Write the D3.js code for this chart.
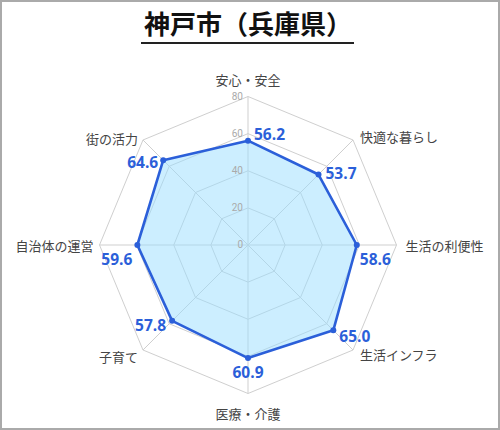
<!DOCTYPE html>
<html>
<head>
<meta charset="utf-8">
<script src="https://cdn.jsdelivr.net/npm/d3@7"></script>
<style>
	body { margin: 0; background: #fff; }
	svg { display: block; font-family: "Noto Sans CJK JP", "Noto Sans", sans-serif; }
</style>
</head>
<body>
<div id="chart"></div>
<script>
// chart data
var title = '神戸市（兵庫県）';
var categories = ['安心・安全', '快適な暮らし', '生活の利便性', '生活インフラ',
	'医療・介護', '子育て', '自治体の運営', '街の活力'];
var values = [56.2, 53.7, 58.6, 65.0, 60.9, 57.8, 59.6, 64.6];
var ticks = [0, 20, 40, 60, 80];

var w = 500,
	h = 430,
	cx = 248,
	cy = 245,
	R = 148.5;

var svg = d3.select('#chart')
	.append('svg')
	.attr('width', w)
	.attr('height', h);

// frame
svg.append('rect')
	.attr('x', 1)
	.attr('y', 1)
	.attr('width', w - 2)
	.attr('height', h - 2)
	.attr('fill', '#fff')
	.attr('stroke', '#aaa')
	.attr('stroke-width', 2);

// title
svg.append('text')
	.attr('x', cx)
	.attr('y', 34)
	.attr('text-anchor', 'middle')
	.attr('font-size', 26)
	.attr('font-weight', 'bold')
	.attr('fill', '#111')
	.text(title);
svg.append('line')
	.attr('x1', 141).attr('x2', 354)
	.attr('y1', 43).attr('y2', 43)
	.attr('stroke', '#222')
	.attr('stroke-width', 2);

var r = d3.scaleLinear().domain([0, 80]).range([0, R]);
var angle = d3.scalePoint().domain(d3.range(categories.length + 1)).range([0, 2 * Math.PI]);

function pt(i, v){
	var a = angle(i);
	return [cx + r(v) * Math.sin(a), cy - r(v) * Math.cos(a)];
}

var g = svg.append('g');

// grid rings
g.selectAll('polygon.ring')
	.data(ticks.slice(1)).enter()
	.append('polygon')
	.attr('class', 'ring')
	.attr('points', function(t){
		return categories.map(function(c, i){ return pt(i, t).join(','); }).join(' ');
	})
	.attr('fill', 'none')
	.attr('stroke', '#cfcfcf')
	.attr('stroke-width', 1);

// spokes
g.selectAll('line.spoke')
	.data(categories).enter()
	.append('line')
	.attr('class', 'spoke')
	.attr('x1', cx).attr('y1', cy)
	.attr('x2', function(d, i){ return pt(i, 80)[0]; })
	.attr('y2', function(d, i){ return pt(i, 80)[1]; })
	.attr('stroke', '#cfcfcf')
	.attr('stroke-width', 1);

// data area
var line = d3.line().curve(d3.curveLinearClosed);
var pts = values.map(function(v, i){ return pt(i, v); });
g.append('path')
	.attr('d', line(pts))
	.attr('fill', 'rgba(153,221,255,0.5)')
	.attr('stroke', '#2b5fd9')
	.attr('stroke-width', 2.6)
	.attr('stroke-linejoin', 'round');

g.selectAll('circle.dot')
	.data(pts).enter()
	.append('circle')
	.attr('class', 'dot')
	.attr('cx', function(d){ return d[0]; })
	.attr('cy', function(d){ return d[1]; })
	.attr('r', 3)
	.attr('fill', '#2b5fd9');

// tick labels
g.selectAll('text.tick')
	.data(ticks).enter()
	.append('text')
	.attr('class', 'tick')
	.attr('x', cx - 5)
	.attr('y', function(t){ return cy - r(t) + 3; })
	.attr('text-anchor', 'end')
	.attr('font-size', 10)
	.attr('font-family', 'Roboto, sans-serif')
	.attr('fill', '#aaa')
	.text(function(t){ return t; });

// category labels, placed by direction
var catPos = [
	{anchor: 'middle', dx: 0, dy: -12},
	{anchor: 'start', dx: 7, dy: 2},
	{anchor: 'start', dx: 9, dy: 6},
	{anchor: 'start', dx: 7, dy: 10},
	{anchor: 'middle', dx: 0, dy: 25},
	{anchor: 'end', dx: -5, dy: 12},
	{anchor: 'end', dx: -6, dy: 6},
	{anchor: 'end', dx: -5, dy: 4}
];
g.selectAll('text.cat')
	.data(categories).enter()
	.append('text')
	.attr('class', 'cat')
	.attr('x', function(d, i){ return pt(i, 80)[0] + catPos[i].dx; })
	.attr('y', function(d, i){ return pt(i, 80)[1] + catPos[i].dy; })
	.attr('text-anchor', function(d, i){ return catPos[i].anchor; })
	.attr('font-size', 13)
	.attr('fill', '#444')
	.text(function(d){ return d; });

// value labels
var valPos = [
	{anchor: 'start', dx: 6, dy: -1},
	{anchor: 'start', dx: 7, dy: 4},
	{anchor: 'start', dx: 3, dy: 20},
	{anchor: 'start', dx: 6, dy: 12},
	{anchor: 'middle', dx: 0, dy: 20},
	{anchor: 'end', dx: -6, dy: 10},
	{anchor: 'end', dx: -5, dy: 20},
	{anchor: 'end', dx: -5, dy: 8}
];
g.selectAll('text.val')
	.data(values).enter()
	.append('text')
	.attr('class', 'val')
	.attr('x', function(d, i){ return pts[i][0] + valPos[i].dx; })
	.attr('y', function(d, i){ return pts[i][1] + valPos[i].dy; })
	.attr('text-anchor', function(d, i){ return valPos[i].anchor; })
	.attr('font-size', 15.5)
	.attr('font-weight', 'bold')
	.attr('font-family', '"Open Sans", "Noto Sans", sans-serif')
	.attr('fill', '#2b5fd9')
	.text(function(d){ return d.toFixed(1); });
</script>
</body>
</html>
